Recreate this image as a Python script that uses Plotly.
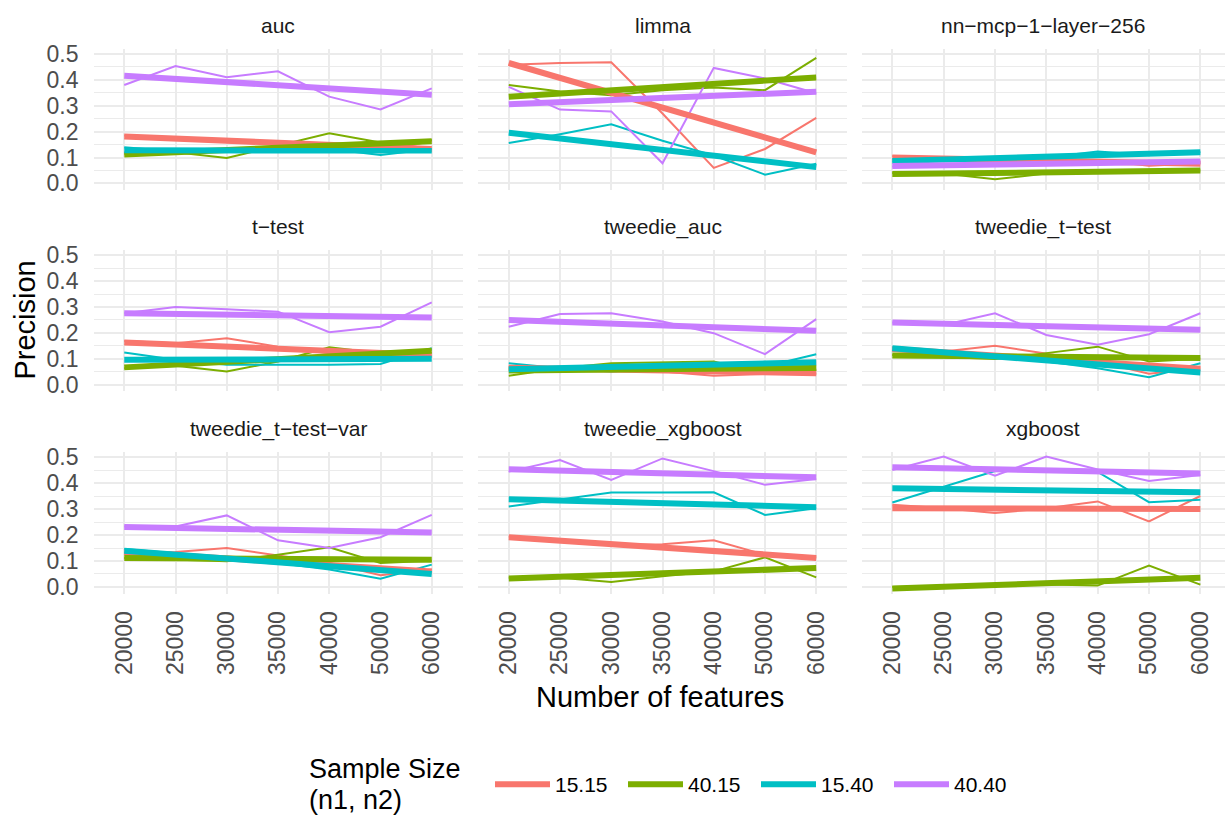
import plotly.graph_objects as go

features = ["20000", "25000", "30000", "35000", "40000", "50000", "60000"]
groups = ["15.15", "40.15", "15.40", "40.40"]
colors = {"15.15": "#F8766D", "40.15": "#7CAE00", "15.40": "#00BFC4", "40.40": "#C77CFF"}
methods = ["auc", "limma", "nn−mcp−1−layer−256",
           "t−test", "tweedie_auc", "tweedie_t−test",
           "tweedie_t−test−var", "tweedie_xgboost", "xgboost"]

# Precision per sample-size group (thin lines)
auc = {"15.15": [0.185, 0.175, 0.160, 0.150, 0.140, 0.120, 0.165],
       "40.15": [0.115, 0.120, 0.098, 0.146, 0.194, 0.158, 0.168],
       "15.40": [0.140, 0.123, 0.127, 0.133, 0.133, 0.110, 0.133],
       "40.40": [0.380, 0.453, 0.410, 0.433, 0.335, 0.286, 0.367]}
limma = {"15.15": [0.458, 0.465, 0.468, 0.270, 0.060, 0.133, 0.253],
         "40.15": [0.380, 0.355, 0.340, 0.360, 0.370, 0.360, 0.485],
         "15.40": [0.156, 0.190, 0.228, 0.165, 0.108, 0.034, 0.076],
         "40.40": [0.373, 0.285, 0.278, 0.078, 0.446, 0.405, 0.348]}
nn_mcp = {"15.15": [0.105, 0.097, 0.092, 0.090, 0.090, 0.068, 0.078],
          "40.15": [0.040, 0.038, 0.016, 0.038, 0.045, 0.048, 0.050],
          "15.40": [0.085, 0.092, 0.097, 0.100, 0.123, 0.110, 0.120],
          "40.40": [0.065, 0.072, 0.075, 0.078, 0.082, 0.083, 0.085]}
t_test = {"15.15": [0.169, 0.160, 0.179, 0.147, 0.122, 0.122, 0.112],
          "40.15": [0.064, 0.073, 0.051, 0.090, 0.145, 0.122, 0.135],
          "15.40": [0.124, 0.096, 0.077, 0.077, 0.077, 0.080, 0.141],
          "40.40": [0.276, 0.300, 0.291, 0.282, 0.203, 0.224, 0.318]}
tweedie_auc = {"15.15": [0.070, 0.064, 0.058, 0.051, 0.035, 0.042, 0.042],
               "40.15": [0.035, 0.064, 0.083, 0.087, 0.090, 0.042, 0.058],
               "15.40": [0.083, 0.064, 0.051, 0.064, 0.070, 0.070, 0.118],
               "40.40": [0.224, 0.273, 0.276, 0.244, 0.199, 0.118, 0.253]}
tweedie_t_test = {"15.15": [0.135, 0.128, 0.150, 0.119, 0.090, 0.042, 0.064],
                  "40.15": [0.115, 0.106, 0.099, 0.122, 0.147, 0.090, 0.100],
                  "15.40": [0.144, 0.128, 0.109, 0.090, 0.064, 0.029, 0.083],
                  "40.40": [0.240, 0.231, 0.276, 0.192, 0.154, 0.195, 0.276]}
tweedie_t_test_var = {"15.15": [0.127, 0.135, 0.150, 0.122, 0.092, 0.045, 0.067],
                      "40.15": [0.112, 0.105, 0.099, 0.124, 0.153, 0.092, 0.101],
                      "15.40": [0.146, 0.131, 0.114, 0.092, 0.067, 0.032, 0.086],
                      "40.40": [0.233, 0.233, 0.276, 0.180, 0.150, 0.192, 0.278]}
tweedie_xgboost = {"15.15": [0.195, 0.180, 0.163, 0.165, 0.180, 0.124, 0.114],
                   "40.15": [0.035, 0.035, 0.019, 0.041, 0.060, 0.114, 0.037],
                   "15.40": [0.310, 0.336, 0.364, 0.364, 0.365, 0.278, 0.304],
                   "40.40": [0.445, 0.490, 0.413, 0.496, 0.447, 0.394, 0.417]}
xgboost = {"15.15": [0.317, 0.304, 0.285, 0.304, 0.330, 0.253, 0.351],
           "40.15": [0.000, 0.003, 0.009, 0.009, 0.005, 0.082, 0.009],
           "15.40": [0.326, 0.387, 0.447, 0.450, 0.444, 0.327, 0.336],
           "40.40": [0.451, 0.503, 0.429, 0.503, 0.453, 0.409, 0.432]}

# Linear trend (thick lines): value at 20000 and at 60000
auc_fit = {"15.15": (0.181, 0.133), "40.15": (0.112, 0.163), "15.40": (0.128, 0.127), "40.40": (0.416, 0.342)}
limma_fit = {"15.15": (0.465, 0.120), "40.15": (0.335, 0.409), "15.40": (0.196, 0.063), "40.40": (0.306, 0.354)}
nn_mcp_fit = {"15.15": (0.100, 0.076), "40.15": (0.036, 0.050), "15.40": (0.087, 0.120), "40.40": (0.067, 0.085)}
t_test_fit = {"15.15": (0.163, 0.115), "40.15": (0.067, 0.131), "15.40": (0.096, 0.100), "40.40": (0.276, 0.260)}
tweedie_auc_fit = {"15.15": (0.066, 0.044), "40.15": (0.055, 0.065), "15.40": (0.060, 0.087), "40.40": (0.250, 0.208)}
tweedie_t_test_fit = {"15.15": (0.138, 0.062), "40.15": (0.113, 0.103), "15.40": (0.141, 0.047), "40.40": (0.240, 0.212)}
tweedie_t_test_var_fit = {"15.15": (0.135, 0.060), "40.15": (0.112, 0.105), "15.40": (0.140, 0.050), "40.40": (0.231, 0.210)}
tweedie_xgboost_fit = {"15.15": (0.192, 0.112), "40.15": (0.032, 0.073), "15.40": (0.338, 0.308), "40.40": (0.454, 0.423)}
xgboost_fit = {"15.15": (0.304, 0.301), "40.15": (-0.006, 0.035), "15.40": (0.381, 0.365), "40.40": (0.462, 0.438)}

panel_data = [auc, limma, nn_mcp, t_test, tweedie_auc, tweedie_t_test,
              tweedie_t_test_var, tweedie_xgboost, xgboost]
panel_fits = [auc_fit, limma_fit, nn_mcp_fit, t_test_fit, tweedie_auc_fit, tweedie_t_test_fit,
              tweedie_t_test_var_fit, tweedie_xgboost_fit, xgboost_fit]

W, H = 1225, 819
col_px = [(93.5, 462.5), (478.0, 847.0), (861.5, 1225.0)]
col_ranges = [[-0.6, 6.6], [-0.6, 6.6], [-0.6, 6.48]]
row_px = [(41.7, 185.2), (246.5, 390.0), (452.2, 595.7)]
yrange = [-0.0255, 0.519]

FONT = "Liberation Sans, Arial, Helvetica, sans-serif"
GRID = "#EBEBEB"
TICKC = "#4D4D4D"

fig = go.Figure()
layout = dict(width=W, height=H, margin=dict(l=0, r=0, t=0, b=0),
              paper_bgcolor="white", plot_bgcolor="white",
              font=dict(family=FONT, color="#1A1A1A"), annotations=[])

for i in range(9):
    r, c = divmod(i, 3)
    ax = "" if i == 0 else str(i + 1)
    xname, yname = "x" + ax, "y" + ax
    data, fits = panel_data[i], panel_fits[i]
    for g in groups:
        fig.add_trace(go.Scatter(x=features, y=data[g], mode="lines", xaxis=xname, yaxis=yname,
                                 line=dict(color=colors[g], width=2), showlegend=False,
                                 legendgroup=g, hoverinfo="skip"))
    for g in groups:
        fig.add_trace(go.Scatter(x=[features[0], features[-1]], y=list(fits[g]), mode="lines",
                                 xaxis=xname, yaxis=yname,
                                 line=dict(color=colors[g], width=6),
                                 name=g, legendgroup=g, showlegend=(i == 0)))
    x0, x1 = col_px[c]
    y0, y1 = row_px[r]
    layout["xaxis" + ax] = dict(domain=[x0 / W, x1 / W], anchor=yname, type="category",
                                range=col_ranges[c], categoryorder="array", categoryarray=features,
                                showgrid=True, gridcolor=GRID, gridwidth=2, zeroline=False,
                                showline=False, ticks="", tickangle=-90, ticklabelstandoff=12,
                                showticklabels=(r == 2),
                                tickfont=dict(size=23, color=TICKC, family=FONT))
    layout["yaxis" + ax] = dict(domain=[1 - y1 / H, 1 - y0 / H], anchor=xname, range=yrange,
                                tickvals=[0, 0.1, 0.2, 0.3, 0.4, 0.5],
                                ticktext=["0.0", "0.1", "0.2", "0.3", "0.4", "0.5"],
                                showgrid=True, gridcolor=GRID, gridwidth=2, zeroline=False,
                                showline=False, ticks="", showticklabels=(c == 0),
                                ticklabelstandoff=14,
                                minor=dict(tickvals=[0.05, 0.15, 0.25, 0.35, 0.45],
                                           showgrid=True, gridcolor=GRID, gridwidth=1),
                                tickfont=dict(size=23, color=TICKC, family=FONT))
    layout["annotations"].append(dict(text=methods[i], x=(x0 + x1) / 2 / W, y=1 - (y0 - 24) / H,
                                      xref="paper", yref="paper", xanchor="center", yanchor="middle",
                                      showarrow=False, font=dict(size=21, color="#1A1A1A", family=FONT)))

layout["annotations"].append(dict(text="Number of features", x=660 / W, y=1 - 701 / H,
                                  xref="paper", yref="paper", xanchor="center", yanchor="middle",
                                  showarrow=False, font=dict(size=29, color="black", family=FONT)))
layout["annotations"].append(dict(text="Precision", x=25 / W, y=1 - 318 / H, textangle=-90,
                                  xref="paper", yref="paper", xanchor="center", yanchor="middle",
                                  showarrow=False, font=dict(size=29, color="black", family=FONT)))
# legend title (two lines, left of the items)
layout["annotations"].append(dict(text="Sample Size", x=307 / W, y=1 - 774 / H,
                                  xref="paper", yref="paper", xanchor="left", yanchor="middle",
                                  showarrow=False, font=dict(size=27, color="black", family=FONT)))
layout["annotations"].append(dict(text="(n1, n2)", x=307 / W, y=1 - 806 / H,
                                  xref="paper", yref="paper", xanchor="left", yanchor="middle",
                                  showarrow=False, font=dict(size=27, color="black", family=FONT)))
layout["legend"] = dict(orientation="h", x=490 / W, xanchor="left", y=1 - 790 / H, yanchor="middle",
                        font=dict(size=21, color="black", family=FONT),
                        bgcolor="rgba(0,0,0,0)", itemwidth=55,
                        entrywidth=63, entrywidthmode="pixels")

fig.update_layout(**layout)
fig.write_html("out.html")
